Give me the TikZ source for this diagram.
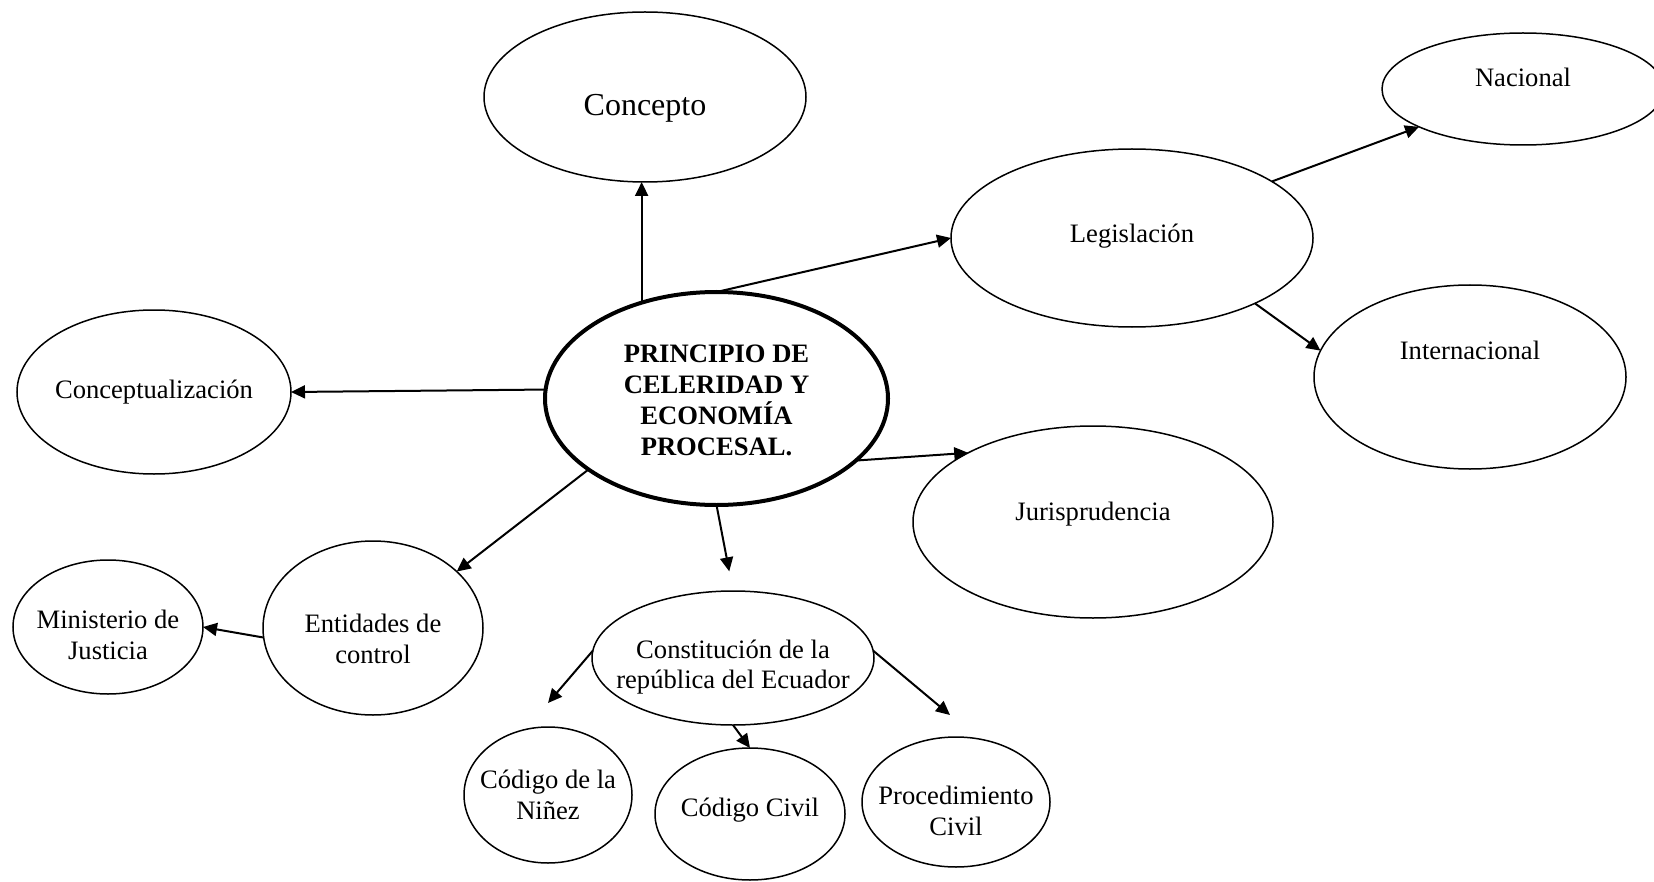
\documentclass[tikz,border=0pt]{standalone}
\usepackage{fontspec}
\setmainfont{Liberation Serif}
\usetikzlibrary{calc}
\usetikzlibrary{shapes.geometric}
\usetikzlibrary{arrows.meta}

\tikzset{
    bub/.style={ellipse, draw, line width=0.75pt, inner sep=0pt, outer sep=0pt},
    txt/.style={inner sep=0pt, align=center, font=\fontsize{13.3}{15.3}\selectfont},
    arr/.style={-{Triangle[length=7pt,width=6.5pt]}, line width=1pt},
}

\begin{document}
\begin{tikzpicture}[x=0.5pt,y=-0.5pt]
    \useasboundingbox (0,0) rectangle (1654,882);

    % Centres of the ellipses (sketch pixels, y going down)
    \coordinate (Pcen) at (716.5,398.5);
    \coordinate (Pcon) at (645,97);
    \coordinate (Pnac) at (1523,89);
    \coordinate (Pleg) at (1132,238);
    \coordinate (Pint) at (1470,377);
    \coordinate (Pconcz) at (154,392);
    \coordinate (Pjur) at (1093,522);
    \coordinate (Pent) at (373,628);
    \coordinate (Pmin) at (108,627);
    \coordinate (Pcons) at (733,658);
    \coordinate (Pnin) at (548,795);
    \coordinate (Pcc) at (750,814);
    \coordinate (Pproc) at (956,802);

    % Draw the ellipses
    \node[bub, line width=2pt, minimum width=171.5pt, minimum height=106.5pt] (cen) at (Pcen) {};
    \node[bub, minimum width=161pt, minimum height=85pt] (con) at (Pcon) {};
    \node[bub, minimum width=141pt, minimum height=56pt] (nac) at (Pnac) {};
    \node[bub, minimum width=181pt, minimum height=89pt] (leg) at (Pleg) {};
    \node[bub, minimum width=156pt, minimum height=92pt] (int) at (Pint) {};
    \node[bub, minimum width=137pt, minimum height=82pt] (concz) at (Pconcz) {};
    \node[bub, minimum width=180pt, minimum height=96pt] (jur) at (Pjur) {};
    \node[bub, minimum width=110pt, minimum height=87pt] (ent) at (Pent) {};
    \node[bub, minimum width=95pt, minimum height=67pt] (min) at (Pmin) {};
    \node[bub, minimum width=141pt, minimum height=67pt] (cons) at (Pcons) {};
    \node[bub, minimum width=84pt, minimum height=68pt] (nin) at (Pnin) {};
    \node[bub, minimum width=95pt, minimum height=66pt] (cc) at (Pcc) {};
    \node[bub, minimum width=94pt, minimum height=65pt] (proc) at (Pproc) {};

    % Texts of the ellipses
    \node[txt, font=\bfseries\fontsize{13.3}{15.5}\selectfont] (cen-t) at ($(Pcen)+(0,2)$) {PRINCIPIO DE\\CELERIDAD Y\\ECONOMÍA\\PROCESAL.};
    \node[txt, font=\fontsize{16}{18}\selectfont] (con-t) at ($(Pcon)+(0,11)$) {Concepto};
    \node[txt] (nac-t) at ($(Pnac)+(0,-12)$) {Nacional};
    \node[txt] (leg-t) at ($(Pleg)+(0,-2)$) {Legislación};
    \node[txt] (int-t) at ($(Pint)+(0,-27)$) {Internacional};
    \node[txt] (concz-t) at (Pconcz) {Conceptualización};
    \node[txt] (jur-t) at ($(Pjur)+(0,-8)$) {Jurisprudencia};
    \node[txt] (ent-t) at ($(Pent)+(0,11)$) {Entidades de\\control};
    \node[txt] (min-t) at ($(Pmin)+(0,8)$) {Ministerio de\\Justicia};
    \node[txt] (cons-t) at ($(Pcons)+(0,9)$) {Constitución de la\\república del Ecuador};
    \node[txt] (nin-t) at (Pnin) {Código de la\\Niñez};
    \node[txt] (cc-t) at ($(Pcc)+(0,-4)$) {Código Civil};
    \node[txt] (proc-t) at ($(Pproc)+(0,9)$) {Procedimiento\\Civil};

    % Free ends of the short arrows
    \coordinate (Tnin) at ($(nin.north)+(0,-24)$);
    \coordinate (Tproc) at ($(proc.north)+(-6,-22)$);

    % Draw the arrows
    \draw[arr] (cen.128) -- (cen.128 |- con.south);
    \draw[arr] (cen.north) -- (leg.west);
    \draw[arr] (leg.22) -- (nac.200);
    \draw[arr] (leg.332) -- (int.170);
    \draw[arr] (cen.177) -- (concz.east);
    \draw[arr] (cen.336) -- (jur.151);
    \draw[arr] (cen.209) -- (ent.34);
    \draw[arr] (ent.185) -- (min.east);
    \draw[arr, shorten >=10pt] (cen.south) -- (cons.north);
    \draw[arr] (cons.177) -- (Tnin);
    \draw[arr] (cons.south) -- (cc.north);
    \draw[arr] (cons.3) -- (Tproc);
\end{tikzpicture}
\end{document}
